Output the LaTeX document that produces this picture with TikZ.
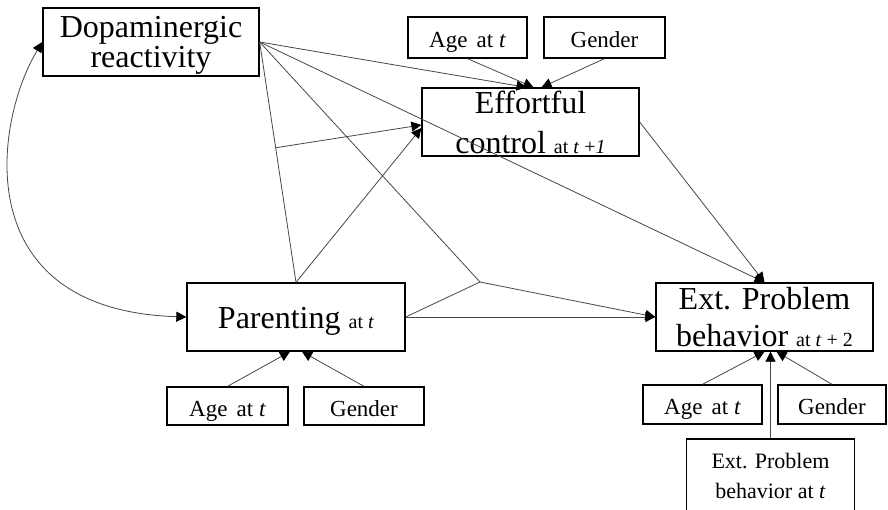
\documentclass[tikz,border=0pt]{standalone}
\usepackage{fontspec}
\setmainfont{Liberation Serif}
\usetikzlibrary{arrows.meta,calc}

% smaller subscript-like text that follows a variable name
\newcommand{\atsmall}[1]{{\fontsize{20}{24}\selectfont #1}}
\newcommand{\agelabel}{Age\hspace{0.4em}at \textit{t}}

\begin{document}
\begin{tikzpicture}[x=1pt,y=-1pt,
  box/.style={draw=black,line width=1.3pt,inner sep=0pt,align=center},
  big/.style={font=\fontsize{32}{30}\selectfont},
  covar/.style={box,font=\fontsize{23}{26}\selectfont,text height=20pt,text depth=0pt},
  link/.style={draw=black!72,line width=0.8pt},
  tip/.tip={Triangle[length=10pt,width=10pt,black]},
  arr/.style={link,-tip},
  biarr/.style={link,tip-tip},
]
\useasboundingbox (0,0) rectangle (888,510);
\clip (0,0) rectangle (888,510);

% main constructs
\node[box,big,minimum width=216pt,minimum height=68pt] (dopa) at (151,42)
  {\rule{0pt}{27pt}Dopaminergic\\reactivity};
\node[box,minimum width=217pt,minimum height=68pt,font=\fontsize{32}{40}\selectfont] (ec) at (530.5,122)
  {Effortful\\control \atsmall{at \textit{t} +\textit{1}}};
\node[box,big,minimum width=218pt,minimum height=68pt,text height=22pt,text depth=0pt] (par) at (296,317)
  {Parenting \atsmall{at \textit{t}}};
\node[box,minimum width=217pt,minimum height=68pt,font=\fontsize{32}{37}\selectfont] (ext) at (764.5,317)
  {Ext. Problem\\behavior \atsmall{at \textit{t} + 2}};

% covariates
\node[covar,minimum width=119pt,minimum height=41pt] (ageE) at (467.5,37.5) {\agelabel};
\node[covar,minimum width=121pt,minimum height=41pt] (genE) at (604.5,37.5) {Gender};
\node[covar,minimum width=121pt,minimum height=38pt] (ageP) at (227.5,406) {\agelabel};
\node[covar,minimum width=120pt,minimum height=38pt] (genP) at (364,406) {Gender};
\node[covar,minimum width=119pt,minimum height=39pt] (ageX) at (702.5,404.5) {\agelabel};
\node[covar,minimum width=108pt,minimum height=39pt] (genX) at (832,404.5) {Gender};
\node[box,minimum width=168pt,minimum height=73pt,font=\fontsize{22}{30}\selectfont] (extT) at (770.5,475.5)
  {Ext. Problem\\behavior at \textit{t}};

% junction points of the interaction terms
\coordinate (mod1) at ($(dopa.east)!0.44!(par.north)$);
\coordinate (mod2) at (480,282);

% paths into effortful control
\draw[arr] (dopa.east) -- ([xshift=-4pt]ec.north);
\draw[arr] (ageE.south) -- ([xshift=3pt]ec.north);
\draw[arr] (genE.south) -- ([xshift=11pt]ec.north);
\draw[link] (dopa.east) -- (par.north);
\draw[arr] (mod1) -- ([yshift=-3pt]ec.west);
\draw[arr] (par.north) -- ([yshift=-6pt]ec.west);

% paths into externalizing problem behavior
\draw[arr] (dopa.east) -- (ext.north);
\draw[arr] (ec.east) -- (ext.north);
\draw[link] (dopa.east) -- (mod2);
\draw[link] (par.east) -- (mod2);
\draw[arr] (mod2) -- (ext.west);
\draw[arr] (par.east) -- (ext.west);

% covariate paths
\draw[arr] (ageP.north) -- ([xshift=-6pt]par.south);
\draw[arr] (genP.north) -- ([xshift=6pt]par.south);
\draw[arr] (ageX.north) -- ([xshift=0pt]ext.south);
\draw[arr] (extT.north) -- ([xshift=6pt]ext.south);
\draw[arr] (genX.north) -- ([xshift=12pt]ext.south);

% covariance between dopaminergic reactivity and parenting
\draw[biarr] (dopa.west) .. controls (-5,120) and (-35,310) .. (par.west);
\end{tikzpicture}
\end{document}
